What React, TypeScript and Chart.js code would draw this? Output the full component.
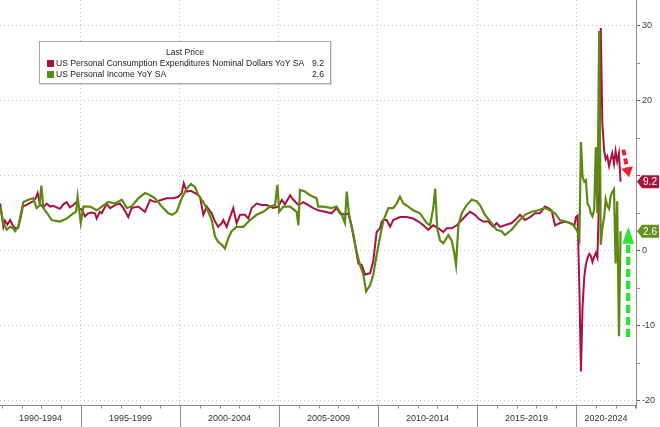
import React, { useEffect, useRef } from "react";
import { Chart, registerables } from "chart.js";

Chart.register(...registerables);

// ---- data (decimal year, YoY %) ----
const pceSeries: [number, number][] = [
  [1990.92, 6.3], [1991.08, 3.2], [1991.16, 4.0], [1991.28, 3.5], [1991.42, 4.1], [1991.55, 3.4],
  [1991.67, 3.0], [1991.83, 3.1], [1991.96, 4.5], [1992.06, 5.9], [1992.22, 6.1], [1992.43, 6.4],
  [1992.59, 6.6], [1992.71, 7.0], [1992.81, 7.7], [1992.93, 6.2], [1993.10, 5.8], [1993.27, 6.3],
  [1993.44, 5.9], [1993.60, 6.0], [1993.77, 5.8], [1993.94, 5.6], [1994.11, 6.2], [1994.28, 6.5],
  [1994.44, 5.8], [1994.61, 6.1], [1994.78, 6.5], [1994.92, 5.6], [1995.04, 5.5], [1995.20, 4.6],
  [1995.37, 5.0], [1995.54, 5.1], [1995.71, 5.0], [1995.79, 4.3], [1995.95, 5.2], [1996.05, 5.0],
  [1996.30, 6.3], [1996.47, 5.7], [1996.72, 6.1], [1996.97, 6.3], [1997.14, 5.7], [1997.39, 4.5],
  [1997.56, 5.7], [1997.89, 5.9], [1998.23, 5.2], [1998.49, 6.8], [1998.74, 6.5], [1999.08, 6.8],
  [1999.33, 7.0], [1999.66, 7.0], [1999.92, 7.2], [2000.09, 7.7], [2000.19, 9.0], [2000.34, 7.9],
  [2000.55, 8.0], [2000.76, 7.7], [2001.01, 7.2], [2001.18, 4.8], [2001.35, 5.9], [2001.60, 5.0],
  [2001.77, 3.9], [2001.93, 3.2], [2002.11, 3.7], [2002.19, 4.1], [2002.36, 3.2], [2002.53, 4.5],
  [2002.69, 5.7], [2002.86, 3.7], [2003.03, 4.8], [2003.28, 4.8], [2003.45, 4.3], [2003.62, 5.7],
  [2003.87, 6.3], [2004.13, 6.1], [2004.38, 6.1], [2004.71, 5.7], [2004.96, 5.9], [2005.14, 6.8],
  [2005.30, 6.2], [2005.56, 7.4], [2005.73, 6.8], [2005.98, 6.1], [2006.23, 6.5], [2006.48, 6.1],
  [2006.73, 5.7], [2006.98, 5.4], [2007.32, 5.2], [2007.66, 5.0], [2007.91, 5.7], [2008.08, 5.0],
  [2008.33, 4.8], [2008.50, 5.0], [2008.67, 3.2], [2008.84, 0.8], [2009.01, -1.7], [2009.18, -1.9],
  [2009.35, -3.2], [2009.60, -3.0], [2009.76, -1.4], [2009.93, 2.5], [2010.10, 3.0], [2010.19, 3.9],
  [2010.27, 4.1], [2010.44, 4.1], [2010.61, 3.2], [2010.77, 4.1], [2011.11, 4.5], [2011.45, 4.5],
  [2011.78, 4.3], [2012.04, 3.9], [2012.29, 3.4], [2012.54, 2.8], [2012.79, 3.4], [2013.05, 3.0],
  [2013.30, 2.5], [2013.47, 3.0], [2013.72, 3.0], [2013.98, 3.4], [2014.23, 4.1], [2014.48, 4.8],
  [2014.65, 5.2], [2014.90, 4.8], [2015.07, 4.3], [2015.32, 3.9], [2015.57, 3.9], [2015.82, 3.2],
  [2015.99, 3.7], [2016.16, 3.2], [2016.41, 3.4], [2016.75, 3.7], [2017.00, 4.3], [2017.17, 4.8],
  [2017.42, 4.1], [2017.68, 4.5], [2017.93, 5.0], [2018.18, 5.0], [2018.43, 5.9], [2018.60, 5.7],
  [2018.77, 5.4], [2018.94, 3.4], [2019.19, 3.7], [2019.45, 3.9], [2019.70, 3.7], [2019.92, 3.4],
  [2020.00, 4.5], [2020.08, 4.7], [2020.17, -5.0], [2020.25, -16.1], [2020.33, -7.5], [2020.42, -3.4],
  [2020.50, -1.8], [2020.58, -1.0], [2020.67, -0.4], [2020.75, -0.7], [2020.83, -1.5], [2020.92, -0.8],
  [2021.00, -0.3], [2021.08, -0.9], [2021.17, 7.5], [2021.25, 29.7], [2021.33, 17.0], [2021.42, 13.4],
  [2021.50, 12.2], [2021.58, 12.6], [2021.67, 11.3], [2021.75, 12.2], [2021.83, 13.0], [2021.92, 11.6],
  [2022.00, 13.3], [2022.08, 11.9], [2022.17, 13.0], [2022.25, 9.2],
];

const incomeSeries: [number, number][] = [
  [1990.92, 5.9], [1991.08, 3.7], [1991.25, 2.8], [1991.42, 3.2], [1991.58, 3.0], [1991.67, 2.6],
  [1991.83, 3.2], [1992.09, 6.5], [1992.34, 6.8], [1992.59, 7.0], [1992.76, 5.7], [1992.90, 6.0],
  [1993.00, 8.7], [1993.10, 5.7], [1993.35, 4.8], [1993.52, 4.1], [1993.94, 3.9], [1994.28, 4.3],
  [1994.61, 5.0], [1994.75, 5.2], [1994.83, 7.2], [1994.99, 3.7], [1995.12, 5.9], [1995.46, 5.9],
  [1995.79, 5.4], [1996.05, 5.9], [1996.38, 6.5], [1996.72, 6.3], [1997.06, 6.8], [1997.31, 5.7],
  [1997.56, 5.9], [1997.89, 7.0], [1998.23, 7.7], [1998.49, 7.4], [1998.74, 7.0], [1999.08, 5.9],
  [1999.41, 5.0], [1999.61, 4.8], [1999.83, 5.2], [2000.09, 7.0], [2000.34, 8.3], [2000.55, 8.9],
  [2000.76, 8.5], [2000.93, 7.4], [2001.18, 6.5], [2001.43, 5.2], [2001.60, 4.1], [2001.77, 1.9],
  [2001.93, 1.2], [2002.11, 0.8], [2002.27, 0.3], [2002.44, 1.7], [2002.61, 2.6], [2002.86, 3.2],
  [2003.20, 3.2], [2003.54, 4.1], [2003.87, 4.8], [2004.21, 5.2], [2004.55, 5.9], [2004.80, 6.1],
  [2004.92, 8.8], [2005.01, 5.2], [2005.22, 5.9], [2005.56, 5.9], [2005.89, 5.2], [2005.98, 3.4],
  [2006.06, 8.1], [2006.31, 7.9], [2006.57, 7.4], [2006.90, 7.0], [2006.98, 5.9], [2007.24, 5.9],
  [2007.66, 5.7], [2007.91, 5.9], [2008.17, 4.8], [2008.33, 3.7], [2008.42, 7.9], [2008.54, 4.8],
  [2008.75, 2.3], [2008.92, -0.1], [2009.09, -1.9], [2009.26, -3.2], [2009.40, -5.4], [2009.60, -4.6],
  [2009.76, -3.2], [2009.93, -0.6], [2010.10, 1.8], [2010.27, 4.0], [2010.52, 5.7], [2010.77, 5.7],
  [2010.94, 6.3], [2011.11, 7.2], [2011.28, 6.3], [2011.53, 5.9], [2011.78, 5.4], [2012.12, 5.0],
  [2012.46, 3.7], [2012.63, 3.4], [2012.79, 5.7], [2012.89, 8.3], [2012.99, 3.0], [2013.13, 1.4],
  [2013.30, 1.0], [2013.55, 2.1], [2013.72, 1.4], [2013.84, -0.1], [2013.94, -1.9], [2014.06, 3.4],
  [2014.23, 5.0], [2014.48, 6.1], [2014.73, 6.8], [2014.98, 6.6], [2015.15, 6.1], [2015.40, 4.8],
  [2015.74, 3.7], [2015.99, 2.8], [2016.24, 2.6], [2016.41, 2.1], [2016.75, 2.8], [2017.09, 3.9],
  [2017.42, 4.8], [2017.76, 5.2], [2018.10, 5.4], [2018.43, 5.7], [2018.69, 5.4], [2018.94, 5.0],
  [2019.19, 4.1], [2019.45, 3.9], [2019.70, 3.7], [2019.87, 3.4],
  [2020.00, 2.9], [2020.08, 2.5], [2020.17, 1.6], [2020.25, 14.5], [2020.33, 9.9], [2020.42, 9.2],
  [2020.50, 9.4], [2020.58, 6.3], [2020.67, 5.9], [2020.75, 5.0], [2020.83, 4.6], [2020.92, 5.5],
  [2021.00, 13.8], [2021.08, 5.0], [2021.17, 29.3], [2021.25, 0.8], [2021.33, 3.0], [2021.42, 4.5],
  [2021.50, 6.9], [2021.58, 6.0], [2021.67, 5.6], [2021.75, 7.3], [2021.83, 7.8], [2021.92, 8.2],
  [2022.00, -1.7], [2022.08, 6.6], [2022.17, -11.4], [2022.25, 2.6],
];

const seriesNames = [
  "US Personal Consumption Expenditures Nominal Dollars YoY SA",
  "US Personal Income YoY SA",
];
const lastValues = [9.2, 2.6];
const seriesColors = ["#a8123e", "#5b8a12"];
const tagColors = ["#a8123e", "#62921c"];

const bandStarts = [1990, 1995, 2000, 2005, 2010, 2015, 2020];
const bandLabels = ["1990-1994", "1995-1999", "2000-2004", "2005-2009", "2010-2014", "2015-2019", "2020-2024"];
const gridYears = [1995, 2000, 2005, 2010, 2015, 2020];
const yTickValues = [-20, -15, -10, -5, 0, 5, 10, 15, 20, 25, 30];
const hiddenYLabels = [10]; // covered by the last-value tag

const X_MIN = 1990.91;
const X_MAX = 2023.03;
const Y_MIN = -20.56;
const Y_MAX = 33.44;

// annotation arrows: [startX, startY, tipX, tipY] in data units
const redArrow = [2022.39, 13.5, 2022.68, 9.8];
const greenArrow = [2022.63, -11.5, 2022.64, 3.2];

const FONT = '"Liberation Sans", Arial, sans-serif';

const decorPlugin = {
  id: "decor",
  afterDraw(chart: any) {
    const { ctx, chartArea, scales } = chart;
    const xs = scales.x;
    const ys = scales.y;
    ctx.save();

    // bottom axis
    const yb = Math.round(chartArea.bottom) + 0.5;
    ctx.strokeStyle = "#8f8f8f";
    ctx.lineWidth = 1;
    ctx.setLineDash([]);
    ctx.beginPath();
    ctx.moveTo(chartArea.left, yb);
    ctx.lineTo(chartArea.right, yb);
    ctx.stroke();
    for (let yr = Math.ceil(xs.min); yr <= xs.max; yr++) {
      const px = Math.round(xs.getPixelForValue(yr)) + 0.5;
      const major = yr % 5 === 0;
      ctx.beginPath();
      ctx.moveTo(px, yb);
      ctx.lineTo(px, major ? chart.height : yb + 3);
      ctx.stroke();
    }
    const pr = Math.round(chartArea.right) + 0.5;
    ctx.beginPath();
    ctx.moveTo(pr, yb);
    ctx.lineTo(pr, yb + 3);
    ctx.stroke();

    ctx.fillStyle = "#333";
    ctx.font = `9px ${FONT}`;
    ctx.textAlign = "center";
    ctx.textBaseline = "middle";
    bandStarts.forEach((s, i) => {
      const a = Math.max(s, xs.min);
      const b = Math.min(s + 5, xs.max);
      const cx = (xs.getPixelForValue(a) + xs.getPixelForValue(b)) / 2;
      ctx.fillText(bandLabels[i], cx, chartArea.bottom + 14);
    });

    // arrows
    const drawArrow = (arr: number[], color: string, width: number, dash: number[], headLen: number, headHalf: number) => {
      const x1 = xs.getPixelForValue(arr[0]);
      const y1 = ys.getPixelForValue(arr[1]);
      const x2 = xs.getPixelForValue(arr[2]);
      const y2 = ys.getPixelForValue(arr[3]);
      const dx = x2 - x1, dy = y2 - y1;
      const len = Math.hypot(dx, dy);
      const ux = dx / len, uy = dy / len;
      const bx = x2 - ux * headLen, by = y2 - uy * headLen;
      ctx.strokeStyle = color;
      ctx.lineWidth = width;
      ctx.setLineDash(dash);
      ctx.lineCap = "butt";
      ctx.beginPath();
      ctx.moveTo(x1, y1);
      ctx.lineTo(bx, by);
      ctx.stroke();
      ctx.setLineDash([]);
      ctx.fillStyle = color;
      ctx.beginPath();
      ctx.moveTo(x2, y2);
      ctx.lineTo(bx - uy * headHalf, by + ux * headHalf);
      ctx.lineTo(bx + uy * headHalf, by - ux * headHalf);
      ctx.closePath();
      ctx.fill();
    };
    drawArrow(redArrow, "#e8232e", 4, [6, 3], 10, 6);
    drawArrow(greenArrow, "#33e03c", 4.5, [8, 4], 17, 6);

    // last-value tags
    ctx.font = `10px ${FONT}`;
    lastValues.forEach((v, i) => {
      const y = ys.getPixelForValue(v);
      const x0 = chartArea.right + 1;
      ctx.fillStyle = tagColors[i];
      ctx.beginPath();
      ctx.moveTo(x0, y);
      ctx.lineTo(x0 + 5, y - 6.5);
      ctx.lineTo(chart.width - 1, y - 6.5);
      ctx.lineTo(chart.width - 1, y + 6.5);
      ctx.lineTo(x0 + 5, y + 6.5);
      ctx.closePath();
      ctx.fill();
      ctx.fillStyle = "#ffffff";
      ctx.textAlign = "center";
      ctx.textBaseline = "middle";
      ctx.fillText(v.toFixed(1), x0 + 13, y + 0.5);
    });
    ctx.restore();
  },
};

export default function App() {
  const ref = useRef<HTMLCanvasElement | null>(null);

  useEffect(() => {
    document.body.style.margin = "0";
    const canvas = ref.current;
    if (!canvas) return;
    const chart = new Chart(canvas, {
      type: "line",
      data: {
        datasets: [
          {
            label: seriesNames[0],
            data: pceSeries.map(([x, y]) => ({ x, y })),
            borderColor: seriesColors[0],
            borderWidth: 2,
            pointRadius: 0,
            tension: 0,
            order: 1,
          },
          {
            label: seriesNames[1],
            data: incomeSeries.map(([x, y]) => ({ x, y })),
            borderColor: seriesColors[1],
            borderWidth: 2.2,
            pointRadius: 0,
            tension: 0,
            order: 0,
          },
        ],
      },
      options: {
        responsive: false,
        animation: false,
        devicePixelRatio: 1,
        layout: { padding: 0 },
        plugins: { legend: { display: false }, tooltip: { enabled: false } },
        scales: {
          x: {
            type: "linear",
            min: X_MIN,
            max: X_MAX,
            afterBuildTicks: (s: any) => {
              s.ticks = gridYears.map((v) => ({ value: v }));
            },
            afterFit: (s: any) => {
              s.height = 22;
              s.paddingLeft = 0;
              s.paddingRight = 0;
            },
            ticks: { display: false },
            grid: { color: "#c4c4c4", lineWidth: 1, drawTicks: false },
            border: { display: false, dash: [1, 3] },
          },
          y: {
            type: "linear",
            position: "right",
            min: Y_MIN,
            max: Y_MAX,
            afterBuildTicks: (s: any) => {
              s.ticks = yTickValues.map((v) => ({ value: v }));
            },
            afterFit: (s: any) => {
              s.width = 24;
              s.paddingTop = 0;
              s.paddingBottom = 0;
            },
            ticks: {
              padding: 2,
              color: "#3a3a3a",
              font: { size: 9, family: FONT },
              callback: (v: any) =>
                Number(v) % 10 === 0 && !hiddenYLabels.includes(Number(v)) ? String(v) : "",
            },
            grid: {
              color: (c: any) => (c.tick && c.tick.value % 10 === 0 ? "#c4c4c4" : "rgba(0,0,0,0)"),
              tickColor: (c: any) => (c.tick && c.tick.value % 10 === 0 ? "#a04058" : "#a08a96"),
              tickLength: 4,
              lineWidth: 1,
            },
            border: { display: true, color: "#9c8592", width: 1, dash: [1, 3] },
          },
        },
      },
      plugins: [decorPlugin],
    } as any);
    return () => chart.destroy();
  }, []);

  return (
    <div style={{ position: "fixed", left: 0, top: 0, width: 660, height: 427, background: "#fff", overflow: "hidden" }}>
      <canvas ref={ref} width={660} height={427} style={{ width: 660, height: 427, display: "block" }} />
      <div
        style={{
          position: "absolute",
          left: 39,
          top: 41,
          width: 290,
          height: 41,
          border: "1px solid #a9a9a9",
          boxShadow: "1px 1px 1px rgba(0,0,0,0.12)",
          background: "#fff",
          font: `8.6px ${FONT}`,
          color: "#222",
          lineHeight: "11px",
        }}
      >
        <div style={{ position: "absolute", top: 5, left: 0, width: "100%", textAlign: "center" }}>Last Price</div>
        {seriesNames.map((name, i) => (
          <div key={name} style={{ position: "absolute", top: 16 + i * 11, left: 7, right: 6, height: 11 }}>
            <span
              style={{
                position: "absolute",
                left: 0,
                top: 2,
                width: 7,
                height: 7,
                background: seriesColors[i],
              }}
            />
            <span style={{ position: "absolute", left: 9, top: 0, whiteSpace: "nowrap" }}>{name}</span>
            <span style={{ position: "absolute", right: 0, top: 0 }}>{lastValues[i].toFixed(1)}</span>
          </div>
        ))}
      </div>
    </div>
  );
}
